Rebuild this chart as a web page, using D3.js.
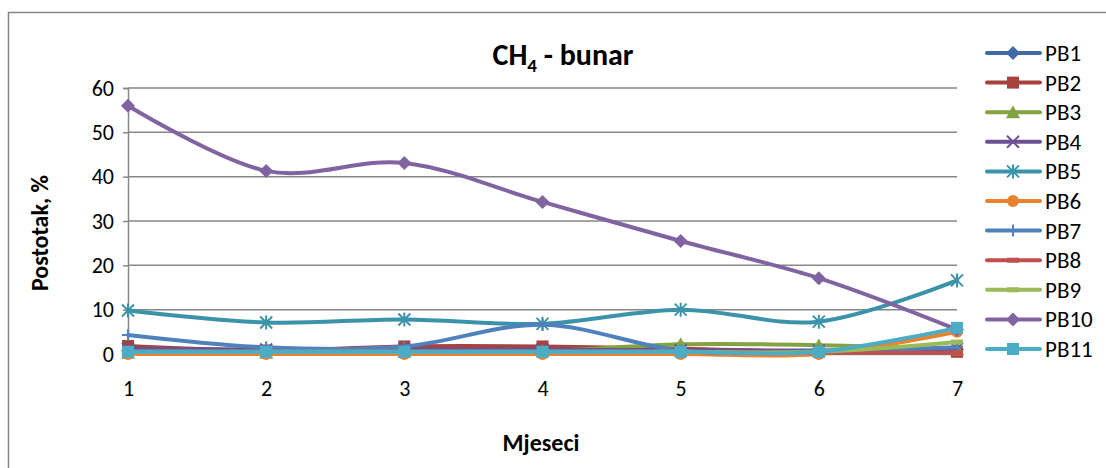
<!DOCTYPE html>
<html>
  <head>
    <title>CH4 - bunar</title>
    <script src="https://d3js.org/d3.v7.min.js"></script>
    <style>
      body { margin: 0; background: #fff; }
      text { font-family: Carlito, Lato, "Open Sans", sans-serif; fill: #000; }
    </style>
  </head>
  <body>
    <script>
      var width = 1106;
      var height = 468;

      // data
      var months = [1, 2, 3, 4, 5, 6, 7];
      var yTicks = [0, 10, 20, 30, 40, 50, 60];
      var seriesNames = ["PB1", "PB2", "PB3", "PB4", "PB5", "PB6", "PB7", "PB8", "PB9", "PB10", "PB11"];
      var pb1 = [0.8, 0.5, 0.5, 0.5, 0.5, 0.5, 1.0];
      var pb2 = [1.8, 0.8, 1.7, 1.7, 1.2, 0.5, 0.5];
      var pb3 = [0.3, 0.3, 0.5, 0.6, 2.2, 2.0, 1.0];
      var pb4 = [1.2, 1.0, 1.0, 1.0, 0.8, 0.8, 1.2];
      var pb5 = [9.8, 7.1, 7.8, 6.8, 10.0, 7.3, 16.6];
      var pb6 = [0, 0, 0, 0, 0, 0, 5.0];
      var pb7 = [4.3, 1.5, 1.7, 6.6, 0.8, 0.6, 1.5];
      var pb8 = [0.5, 0.5, 0.5, 0.5, 0.5, 0.3, 0.3];
      var pb9 = [0.5, 0.5, 0.5, 0.5, 0.5, 0.5, 2.7];
      var pb10 = [56.0, 41.3, 43.1, 34.3, 25.5, 17.1, 5.5];
      var pb11 = [0.5, 0.5, 0.5, 0.5, 0.5, 0.5, 5.9];
      var seriesValues = [pb1, pb2, pb3, pb4, pb5, pb6, pb7, pb8, pb9, pb10, pb11];

      var colors = ["#3f6aa5", "#a8423f", "#83a343", "#6b5191", "#3b93aa", "#e9822f",
                    "#4f81bd", "#c0504d", "#9bbb59", "#8064a2", "#4bacc6"];
      var markers = ["diamond", "square", "triangle", "x", "asterisk", "circle",
                     "plus", "dash", "dash", "diamond", "square"];

      var plot = {left: 128, right: 957, top: 88, bottom: 354};

      var svg = d3.select("body")
        .append("svg")
        .attr("width", width)
        .attr("height", height);

      // outer frame of the chart area
      svg.append("rect")
        .attr("x", 8.5).attr("y", 12.5)
        .attr("width", 1120).attr("height", 480)
        .attr("fill", "none")
        .attr("stroke", "#868686")
        .attr("stroke-width", 1.5);

      var xScale = d3.scalePoint()
        .domain(months)
        .range([plot.left, plot.right]);

      var yScale = d3.scaleLinear()
        .domain([0, 60])
        .range([plot.bottom, plot.top]);

      // gridlines
      svg.append("g")
        .selectAll("line")
        .data(yTicks)
        .enter()
        .append("line")
          .attr("x1", plot.left)
          .attr("x2", plot.right)
          .attr("y1", function(d){ return yScale(d); })
          .attr("y2", function(d){ return yScale(d); })
          .attr("stroke", "#878787")
          .attr("stroke-width", 1.5);

      var yAxis = svg.append("g")
        .attr("transform", `translate(${plot.left},0)`)
        .call(d3.axisLeft(yScale).tickValues(yTicks).tickSize(5).tickPadding(9));
      yAxis.select(".domain").attr("stroke", "#878787").attr("stroke-width", 1.5);
      yAxis.selectAll(".tick line").attr("stroke", "#878787").attr("stroke-width", 1.5);
      yAxis.selectAll("text").style("font-size", "22px");

      var xAxis = svg.append("g")
        .attr("transform", `translate(0,${plot.bottom})`)
        .call(d3.axisBottom(xScale).tickSize(0).tickPadding(26));
      xAxis.select(".domain").attr("stroke", "#878787").attr("stroke-width", 1.5);
      xAxis.selectAll("text").style("font-size", "22px");

      var line = d3.line()
        .x(function(d, i){ return xScale(months[i]); })
        .y(function(d){ return yScale(d); })
        .curve(d3.curveCatmullRom.alpha(0));

      function drawMarker(g, type, color) {
        var s = 6;
        if (type === "diamond") {
          g.append("path").attr("d", `M0,${-s - 1}L${s + 1},0L0,${s + 1}L${-s - 1},0Z`).attr("fill", color);
        } else if (type === "square") {
          g.append("rect").attr("x", -s).attr("y", -s).attr("width", 2 * s).attr("height", 2 * s).attr("fill", color);
        } else if (type === "triangle") {
          g.append("path").attr("d", `M0,${-s - 1}L${s + 1},${s}L${-s - 1},${s}Z`).attr("fill", color);
        } else if (type === "circle") {
          g.append("circle").attr("r", s).attr("fill", color);
        } else if (type === "x") {
          g.append("path").attr("d", `M${-s},${-s}L${s},${s}M${-s},${s}L${s},${-s}`)
            .attr("stroke", color).attr("stroke-width", 2);
        } else if (type === "asterisk") {
          g.append("path").attr("d", `M${-s},${-s}L${s},${s}M${-s},${s}L${s},${-s}M0,${-s - 1}L0,${s + 1}`)
            .attr("stroke", color).attr("stroke-width", 2);
        } else if (type === "plus") {
          g.append("path").attr("d", `M${-s},0L${s},0M0,${-s}L0,${s}`)
            .attr("stroke", color).attr("stroke-width", 2);
        } else if (type === "dash") {
          g.append("rect").attr("x", -s).attr("y", -2.5).attr("width", 2 * s).attr("height", 5).attr("fill", color);
        }
      }

      // series lines and markers
      seriesValues.forEach(function(vals, k) {
        svg.append("path")
          .attr("d", line(vals))
          .attr("fill", "none")
          .attr("stroke", colors[k])
          .attr("stroke-width", 4)
          .attr("stroke-linecap", "round");
        vals.forEach(function(v, i) {
          var g = svg.append("g")
            .attr("transform", `translate(${xScale(months[i])},${yScale(v)})`);
          drawMarker(g, markers[k], colors[k]);
        });
      });

      // title
      var title = svg.append("text")
        .attr("x", 563)
        .attr("y", 65)
        .attr("text-anchor", "middle")
        .style("font-size", "30px")
        .style("font-weight", "bold");
      title.append("tspan").text("CH");
      title.append("tspan").attr("dy", 7).style("font-size", "19px").text("4");
      title.append("tspan").attr("dy", -7).text(" - bunar");

      var yLabel = svg.append("text")
        .attr("transform", "rotate(-90)")
        .attr("x", -233)
        .attr("y", 48)
        .attr("text-anchor", "middle")
        .style("font-size", "24px")
        .style("font-weight", "bold")
        .text("Postotak, %");

      var xLabel = svg.append("text")
        .attr("x", 541)
        .attr("y", 451)
        .attr("text-anchor", "middle")
        .style("font-size", "24px")
        .style("font-weight", "bold")
        .text("Mjeseci");

      // legend
      var legend = svg.append("g");
      seriesNames.forEach(function(name, k) {
        var y = 53 + k * 29.6;
        legend.append("line")
          .attr("x1", 987).attr("x2", 1040)
          .attr("y1", y).attr("y2", y)
          .attr("stroke", colors[k])
          .attr("stroke-width", 4)
          .attr("stroke-linecap", "round");
        var g = legend.append("g").attr("transform", `translate(1013,${y})`);
        drawMarker(g, markers[k], colors[k]);
        legend.append("text")
          .attr("x", 1045)
          .attr("y", y + 8)
          .style("font-size", "23px")
          .text(name);
      });
    </script>
  </body>
</html>
